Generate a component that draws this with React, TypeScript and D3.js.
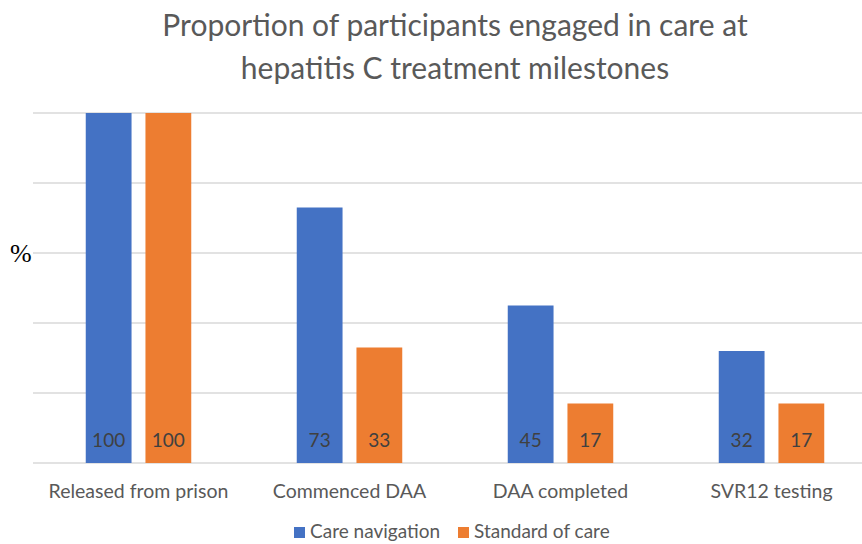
import React, { useEffect } from 'react';
import * as d3 from 'd3';

const categories = ['Released from prison', 'Commenced DAA', 'DAA completed', 'SVR12 testing'];
const seriesNames = ['Care navigation', 'Standard of care'];
const careNavigation = [100, 73, 45, 32];
const standardOfCare = [100, 33, 17, 17];
const yTicks = [0, 20, 40, 60, 80, 100];
const colors = ['#4472C4', '#ED7D31'];

const W = 862;
const H = 544;
const FONT = 'Lato, "Open Sans", sans-serif';

const App: React.FC = () => {
  useEffect(() => {
    document.body.style.margin = '0';
  }, []);

  const values = [careNavigation, standardOfCare];

  const y = d3.scaleLinear().domain([0, 100]).range([463, 113]);
  const x0 = d3.scaleBand<string>()
    .domain(categories)
    .range([33, 877])
    .paddingInner(0.5)
    .paddingOuter(0.25);
  const x1 = d3.scaleBand<string>()
    .domain(seriesNames)
    .range([0, x0.bandwidth()])
    .paddingInner(0.233);

  return (
    <svg width={W} height={H} style={{ display: 'block', background: '#fff' }}>
      {/* title */}
      <text x={455} y={36} textAnchor="middle" fontFamily={FONT} fontSize={30} fill="#595959">
        Proportion of participants engaged in care at
      </text>
      <text x={455} y={79} textAnchor="middle" fontFamily={FONT} fontSize={30} fill="#595959">
        hepatitis C treatment milestones
      </text>

      {/* gridlines */}
      {yTicks.map(t => (
        <line key={t} x1={33} x2={W} y1={y(t)} y2={y(t)} stroke="#d9d9d9" strokeWidth={1.5} />
      ))}

      {/* y label */}
      <text x={10} y={262} fontFamily='"Liberation Serif", "DejaVu Serif", serif' fontSize={26} fill="#000">
        %
      </text>

      {/* bars */}
      {categories.map((c, ci) => (
        <g key={c} transform={`translate(${x0(c)},0)`}>
          {seriesNames.map((s, si) => {
            const v = values[si][ci];
            const bx = x1(s) ?? 0;
            return (
              <g key={s}>
                <rect x={bx} y={y(v)} width={x1.bandwidth()} height={y(0) - y(v)} fill={colors[si]} />
                <text
                  x={bx + x1.bandwidth() / 2}
                  y={447}
                  textAnchor="middle"
                  fontFamily={FONT}
                  fontSize={19}
                  fill="#404040"
                >
                  {v}
                </text>
              </g>
            );
          })}
          <text
            x={x0.bandwidth() / 2}
            y={498}
            textAnchor="middle"
            fontFamily={FONT}
            fontSize={19.5}
            fill="#595959"
          >
            {c}
          </text>
        </g>
      ))}

      {/* legend */}
      {seriesNames.map((s, i) => {
        const lx = [294, 458][i];
        return (
          <g key={s}>
            <rect x={lx} y={527} width={11} height={11} fill={colors[i]} />
            <text x={lx + 16} y={538} fontFamily={FONT} fontSize={19} fill="#595959">
              {s}
            </text>
          </g>
        );
      })}
    </svg>
  );
};

export default App;
